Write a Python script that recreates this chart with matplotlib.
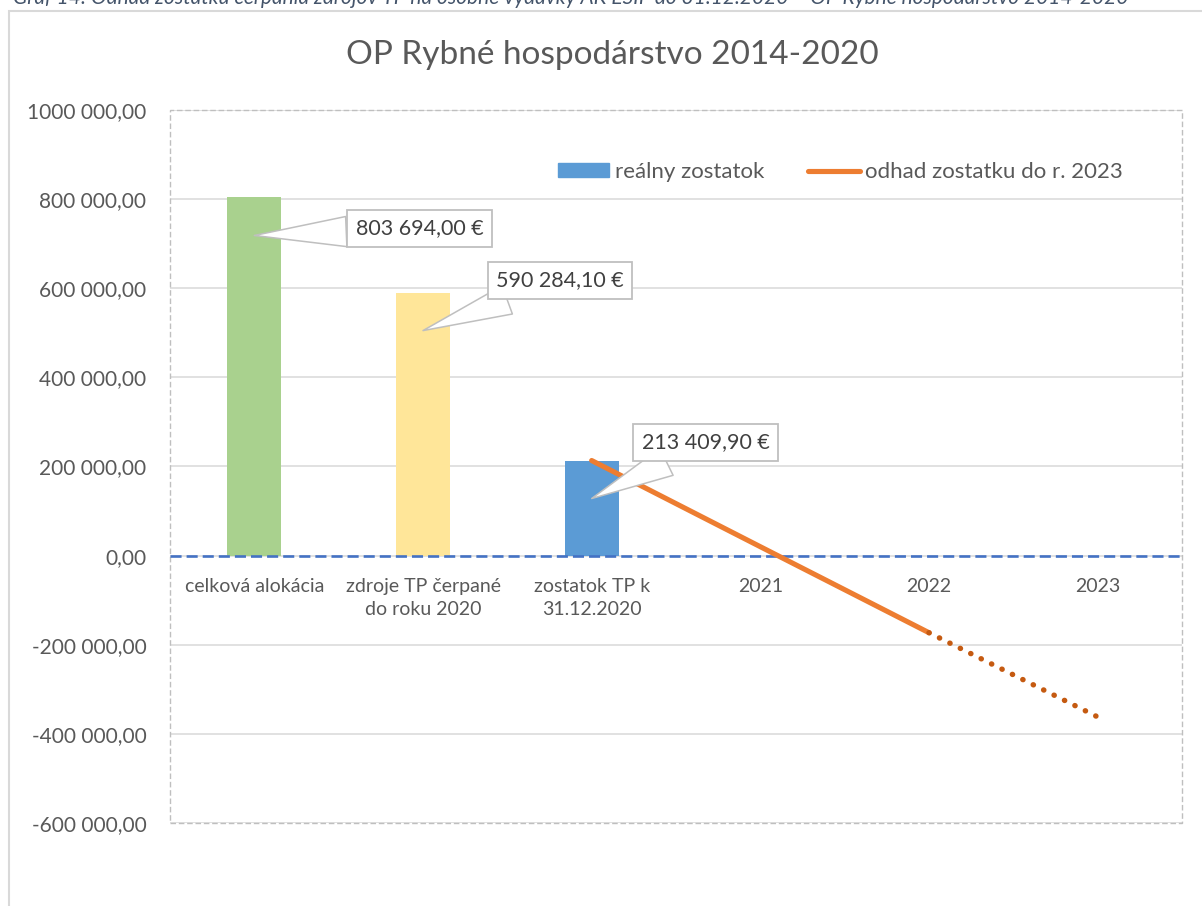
import matplotlib
matplotlib.use("Agg")
import matplotlib.pyplot as plt
import matplotlib.transforms as mtransforms
from matplotlib.patches import Rectangle, Patch
from matplotlib.lines import Line2D

# ---- data ----
categories = ["celková alokácia", "zdroje TP čerpané\ndo roku 2020",
              "zostatok TP k\n31.12.2020", "2021", "2022", "2023"]
bar_values = [803694.00, 590284.10, 213409.90]
bar_labels = ["803 694,00 €", "590 284,10 €", "213 409,90 €"]
bar_colors = ["#A9D18E", "#FFE699", "#5B9BD5"]
forecast_values = [213409.90, 20000.0, -173000.0, -362000.0]   # categories 2..5
forecast_start = 2
yticks = [-600000, -400000, -200000, 0, 200000, 400000, 600000, 800000, 1000000]
title = "OP Rybné hospodárstvo 2014-2020"
caption = ("Graf 14: Odhad zostatku čerpania zdrojov TP na osobné výdavky AK EŠIF "
           "do 31.12.2020 – OP Rybné hospodárstvo 2014-2020")
legend_labels = ["reálny zostatok", "odhad zostatku do r. 2023"]

FONT = "Lato"
GRAY = "#595959"
plt.rcParams["font.family"] = [FONT, "DejaVu Sans"]

W, H = 1202, 906
fig = plt.figure(figsize=(W / 100, H / 100), dpi=100)
fig.patch.set_facecolor("white")

# outer chart border (extends past right and bottom edges, as in the reference crop)
fig.patches.append(Rectangle((9 / W, -0.5), 2.0, 1.5 - 11 / H, transform=fig.transFigure,
                             fill=False, ec="#D9D9D9", lw=1.5))
# caption, cropped at the top edge as in the reference
fig.text(13 / W, 1 - 4 / H, caption, ha="left", va="baseline", fontsize=15,
         style="italic", color="#44546A")

L, R, T, B = 170, 1182, 110, 823
ax = fig.add_axes([L / W, 1 - B / H, (R - L) / W, (B - T) / H])

x = list(range(len(categories)))
ax.set_xlim(-0.5, len(categories) - 0.5)
ax.set_ylim(yticks[0], yticks[-1])

# grid
ax.set_yticks(yticks)
ax.yaxis.grid(True, color="#D9D9D9", lw=1.1)
ax.set_axisbelow(True)

# bars
ax.bar(x[:len(bar_values)], bar_values, width=0.32, color=bar_colors, zorder=2)

# zero line
ax.axhline(0, color="#4472C4", lw=1.9, dashes=(4.2, 1.9), zorder=3)

# forecast line
fx = list(range(forecast_start, forecast_start + len(forecast_values)))
ax.plot(fx[:3], forecast_values[:3], color="#ED7D31", lw=3.7, solid_capstyle="round", zorder=4)
ax.plot(fx[2:], forecast_values[2:], color="#C55A11", lw=3.9, linestyle=(0, (0.05, 2.1)),
        dash_capstyle="round", zorder=4)

# callout labels
tip = mtransforms.offset_copy(ax.transData, fig=fig, x=0, y=-38, units="dots")
offsets = [(165, 7), (137, 50), (114, 56)]
for i, (v, lab) in enumerate(zip(bar_values, bar_labels)):
    ax.annotate(lab, xy=(i, v), xycoords=tip, xytext=offsets[i], textcoords="offset pixels",
                ha="center", va="center", fontsize=15.5, color="#404040", zorder=6,
                bbox=dict(boxstyle="square,pad=0.4", fc="white", ec="#BFBFBF", lw=1.3),
                arrowprops=dict(arrowstyle="wedge,tail_width=1.4,shrink_factor=0.5",
                                fc="white", ec="#BFBFBF", lw=1.1, shrinkA=0, shrinkB=0))

# spines: hide, draw dashed plot-area frame
for s in ax.spines.values():
    s.set_visible(False)
ax.spines["bottom"].set_position(("data", 0))
ax.add_patch(Rectangle((0, 0), 1, 1, transform=ax.transAxes, fill=False,
                       ec="#BFBFBF", lw=1.0, linestyle=(0, (4, 2)), clip_on=False, zorder=1))

# ticks
def fmt(v):
    a = abs(int(round(v)))
    s = f"{a // 1000} {a % 1000:03d},00" if a >= 1000 else f"{a},00"
    return ("-" if v < 0 else "") + s

ax.set_yticklabels([fmt(v) for v in yticks])
ax.tick_params(axis="y", length=0, pad=17, labelsize=15, labelcolor=GRAY)
ax.set_xticks(x)
ax.set_xticklabels(categories, linespacing=1.45)
ax.tick_params(axis="x", length=0, pad=16, labelsize=14, labelcolor=GRAY)

# title
fig.text(612 / W, 1 - 55 / H, title, ha="center", va="center", fontsize=24, color=GRAY)

# legend
handles = [Patch(color="#5B9BD5"),
           Line2D([0], [0], color="#ED7D31", lw=3.7, solid_capstyle="round")]
ax.legend(handles, legend_labels, loc="center left",
          bbox_to_anchor=((558 - L) / (R - L), (B - 172) / (B - T)),
          ncol=2, frameon=False, fontsize=16, labelcolor=GRAY, handlelength=2.3,
          handleheight=0.6, handletextpad=0.25, columnspacing=2.0, borderpad=0, borderaxespad=0)

fig.savefig("out.png", dpi=100, facecolor="white")
